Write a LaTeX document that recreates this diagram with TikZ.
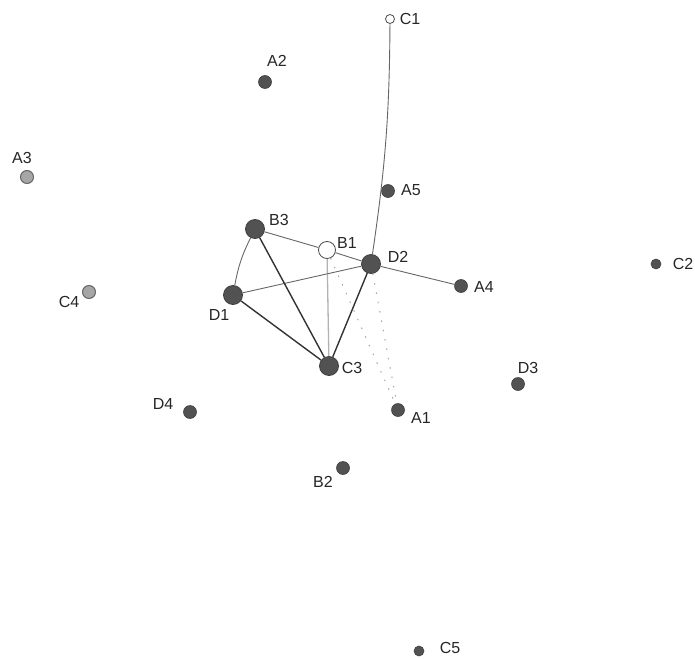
\documentclass[tikz,border=0pt]{standalone}
\usepackage{fontspec}
\setmainfont{Liberation Sans}
\begin{document}
\begin{tikzpicture}[x=1pt,y=-1pt,
  every node/.style={font=\fontsize{16}{18}\selectfont, text=black!85},
  big/.style={circle, draw=black!75, fill=black!68, minimum size=19pt, inner sep=0pt, line width=0.8pt},
  mid/.style={circle, draw=black!75, fill=black!68, minimum size=13pt, inner sep=0pt, line width=0.6pt},
  small/.style={circle, draw=black!75, fill=black!68, minimum size=10pt, inner sep=0pt, line width=0.6pt},
  light/.style={circle, draw=black!60, fill=black!35, minimum size=13pt, inner sep=0pt, line width=1pt},
  openbig/.style={circle, draw=black!70, fill=white, minimum size=17pt, inner sep=0pt, line width=0.8pt},
  opensmall/.style={circle, draw=black!70, fill=white, minimum size=9pt, inner sep=0pt, line width=0.8pt},
  lbl/.style={inner sep=0pt},
  strong/.style={draw=black!80, line width=1.4pt},
  thin/.style={draw=black!60, line width=0.9pt},
  faint/.style={draw=black!30, line width=1.3pt},
  dots/.style={draw=black!35, line width=1pt, dash pattern=on 1.5pt off 8pt}
]
\useasboundingbox (0,0) rectangle (695,658);

% nodes
\node[opensmall] (C1) at (390,19) {};
\node[mid] (A2) at (265,82) {};
\node[light] (A3) at (27,177) {};
\node[mid] (A5) at (388,191) {};
\node[big] (B3) at (255,229) {};
\node[openbig] (B1) at (327,250) {};
\node[big] (D2) at (371,264) {};
\node[mid] (A4) at (461,286) {};
\node[small] (C2) at (656,264) {};
\node[light] (C4) at (89,292) {};
\node[big] (D1) at (233,295) {};
\node[big] (C3) at (329,366) {};
\node[mid] (D3) at (518,384) {};
\node[mid] (D4) at (190,412) {};
\node[mid] (A1) at (398,410) {};
\node[mid] (B2) at (343,468) {};
\node[small] (C5) at (419,651) {};

% labels
\node[lbl] (lC1) at (410,19) {C1};
\node[lbl] (lA2) at (277,61) {A2};
\node[lbl] (lA3) at (22,158) {A3};
\node[lbl] (lA5) at (411,190) {A5};
\node[lbl] (lB3) at (279,220) {B3};
\node[lbl] (lB1) at (347,243) {B1};
\node[lbl] (lD2) at (398,257) {D2};
\node[lbl] (lA4) at (484,287) {A4};
\node[lbl] (lC2) at (683,264) {C2};
\node[lbl] (lC4) at (69,302) {C4};
\node[lbl] (lD1) at (219,315) {D1};
\node[lbl] (lC3) at (352,368) {C3};
\node[lbl] (lD3) at (528,368) {D3};
\node[lbl] (lD4) at (163,404) {D4};
\node[lbl] (lA1) at (421,418) {A1};
\node[lbl] (lB2) at (323,482) {B2};
\node[lbl] (lC5) at (450,648) {C5};

% connectors
\path[dots] (D2) -- (A1);
\path[dots] (B1) -- (A1);
\path[faint] (B1) -- (C3);
\path[thin] (C1) to[bend left=4] (D2);
\path[thin] (B3) -- (B1);
\path[thin] (B1) -- (D2);
\path[thin] (D2) -- (A4);
\path[thin] (D1) -- (D2);
\path[thin] (B3) to[bend right=8] (D1);
\path[strong] (B3) -- (C3);
\path[strong] (D1) -- (C3);
\path[strong] (D2) -- (C3);
\end{tikzpicture}
\end{document}
